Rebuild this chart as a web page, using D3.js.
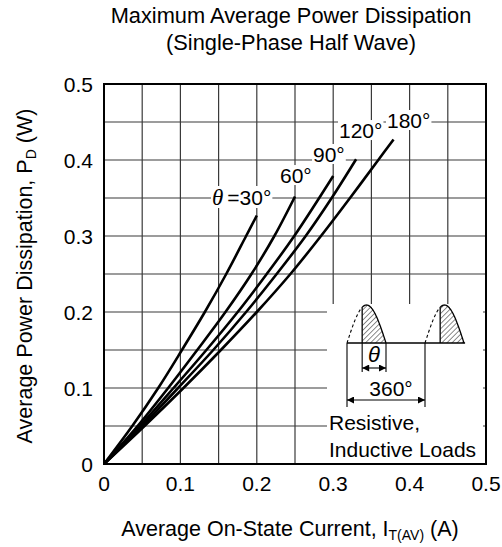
<!DOCTYPE html>
<html><head><meta charset="utf-8">
<script src="https://cdn.jsdelivr.net/npm/d3@7"></script>
<style>
body{margin:0;background:#fff}
svg{display:block}
text{font-family:"Liberation Sans",Arial,Helvetica,sans-serif;fill:#000}
</style>
</head><body>
<svg id="chart" width="502" height="547"></svg>
<script>
// ---------- data ----------
const xTickValues = [0, 0.1, 0.2, 0.3, 0.4, 0.5];
const xTickLabels = ["0", "0.1", "0.2", "0.3", "0.4", "0.5"];
const yTickValues = [0, 0.1, 0.2, 0.3, 0.4, 0.5];
const yTickLabels = ["0", "0.1", "0.2", "0.3", "0.4", "0.5"];
const gridValues = [0.05, 0.1, 0.15, 0.2, 0.25, 0.3, 0.35, 0.4, 0.45];

const seriesNames = ["30°", "60°", "90°", "120°", "180°"];
const current30  = [0, 0.037, 0.071, 0.102, 0.132, 0.160, 0.186, 0.200];
const power30    = [0, 0.05, 0.10, 0.15, 0.20, 0.25, 0.30, 0.327];
const current60  = [0, 0.044, 0.084, 0.122, 0.159, 0.193, 0.223, 0.250];
const power60    = [0, 0.05, 0.10, 0.15, 0.20, 0.25, 0.30, 0.352];
const current90  = [0, 0.047, 0.091, 0.134, 0.175, 0.213, 0.249, 0.300];
const power90    = [0, 0.05, 0.10, 0.15, 0.20, 0.25, 0.30, 0.379];
const current120 = [0, 0.050, 0.097, 0.143, 0.186, 0.226, 0.264, 0.298, 0.330];
const power120   = [0, 0.05, 0.10, 0.15, 0.20, 0.25, 0.30, 0.35, 0.401];
const current180 = [0, 0.053, 0.104, 0.153, 0.200, 0.244, 0.284, 0.322, 0.359, 0.379];
const power180   = [0, 0.05, 0.10, 0.15, 0.20, 0.25, 0.30, 0.35, 0.40, 0.427];

const titleLines = ["Maximum Average Power Dissipation", "(Single-Phase Half Wave)"];
const loadLines = ["Resistive,", "Inductive Loads"];

// ---------- layout ----------
const W = 502, H = 547;
const plot = {left: 104, right: 486, top: 84, bottom: 464};
const FONT = 21;
// label anchors (data units)
const labelAnchors = [[0.1414, 0.3408], [0.2304, 0.3697], [0.2736, 0.3974], [0.3076, 0.4289], [0.3704, 0.4421]];

const svg = d3.select("#chart");
svg.append("rect").attr("width", W).attr("height", H).attr("fill", "#fff");

const x = d3.scaleLinear().domain([0, 0.5]).range([plot.left, plot.right]);
const y = d3.scaleLinear().domain([0, 0.5]).range([plot.bottom, plot.top]);

// grid
const grid = svg.append("g").attr("stroke", "#3a3a3a").attr("stroke-width", 1.2);
grid.selectAll("line.v").data(gridValues).join("line")
  .attr("x1", d => x(d)).attr("x2", d => x(d))
  .attr("y1", plot.top).attr("y2", plot.bottom);
grid.selectAll("line.h").data(gridValues).join("line")
  .attr("y1", d => y(d)).attr("y2", d => y(d))
  .attr("x1", plot.left).attr("x2", plot.right);

// inset white box
const inset = {left: 327, right: 483, top: 304};
svg.append("rect").attr("x", inset.left).attr("y", inset.top)
  .attr("width", inset.right - inset.left).attr("height", plot.bottom - inset.top)
  .attr("fill", "#fff");

// frame
svg.append("rect").attr("x", plot.left).attr("y", plot.top)
  .attr("width", plot.right - plot.left).attr("height", plot.bottom - plot.top)
  .attr("fill", "none").attr("stroke", "#000").attr("stroke-width", 2);

// curves
const seriesData = [
  d3.zip(current30, power30), d3.zip(current60, power60), d3.zip(current90, power90),
  d3.zip(current120, power120), d3.zip(current180, power180)
];
const line = d3.line().x(d => x(d[0])).y(d => y(d[1])).curve(d3.curveCatmullRom.alpha(0.5));
svg.append("g").selectAll("path").data(seriesData).join("path")
  .attr("d", line).attr("fill", "none").attr("stroke", "#000")
  .attr("stroke-width", 2.6).attr("stroke-linecap", "butt");

// curve labels with white background
const labG = svg.append("g");
seriesNames.forEach((name, i) => {
  const g = labG.append("g");
  const t = g.append("text").attr("x", x(labelAnchors[i][0])).attr("y", y(labelAnchors[i][1]))
    .attr("font-size", FONT);
  if (i === 0) {
    t.append("tspan").text("θ").attr("font-family", "'Liberation Serif','Times New Roman',serif")
      .attr("font-style", "italic").attr("font-size", FONT + 2);
    t.append("tspan").text("=" + name).attr("dx", 4);
  } else {
    t.text(name);
  }
  const bb = t.node().getBBox();
  g.insert("rect", "text").attr("x", bb.x - 1).attr("y", bb.y + 1)
    .attr("width", bb.width + 2).attr("height", bb.height - 3).attr("fill", "#fff");
});

// tick labels
svg.append("g").selectAll("text").data(xTickValues).join("text")
  .attr("x", d => x(d)).attr("y", 491).attr("text-anchor", "middle")
  .attr("font-size", FONT).text((d, i) => xTickLabels[i]);
svg.append("g").selectAll("text").data(yTickValues).join("text")
  .attr("x", 93).attr("y", d => y(d) + 7.5).attr("text-anchor", "end")
  .attr("font-size", FONT).text((d, i) => yTickLabels[i]);

// title
svg.append("g").selectAll("text").data(titleLines).join("text")
  .attr("x", 291).attr("y", (d, i) => 23 + i * 27).attr("text-anchor", "middle")
  .attr("font-size", 21.8).text(d => d);

// x axis label
const xl = svg.append("text").attr("x", 290).attr("y", 536).attr("text-anchor", "middle").attr("font-size", 21.5);
xl.append("tspan").text("Average On-State Current, I");
xl.append("tspan").text("T(AV)").attr("font-size", 14).attr("dy", 4);
xl.append("tspan").text(" (A)").attr("dy", -4);

// y axis label
const yl = svg.append("text").attr("transform", "translate(32,276) rotate(-90)")
  .attr("text-anchor", "middle").attr("font-size", 21.5);
yl.append("tspan").text("Average Power Dissipation, P");
yl.append("tspan").text("D").attr("font-size", 14).attr("dy", 4);
yl.append("tspan").text(" (W)").attr("dy", -4);

// ---------- inset waveform ----------
const ang = d3.scaleLinear().domain([0, 360]).range([347, 425]);
const amp = d3.scaleLinear().domain([0, 1]).range([343, 305]);
const fireAngle = 70;
const defs = svg.append("defs");
defs.append("pattern").attr("id", "hatch").attr("patternUnits", "userSpaceOnUse")
  .attr("width", 3.6).attr("height", 3.6).attr("patternTransform", "rotate(45)")
  .append("line").attr("x1", 0).attr("y1", 0).attr("x2", 0).attr("y2", 3.6)
  .attr("stroke", "#000").attr("stroke-width", 0.9);
const mk = defs.append("marker").attr("id", "arr").attr("viewBox", "0 0 10 10")
  .attr("refX", 10).attr("refY", 5).attr("markerWidth", 9).attr("markerHeight", 7)
  .attr("markerUnits", "userSpaceOnUse").attr("orient", "auto-start-reverse");
mk.append("path").attr("d", "M0,0 L10,5 L0,10 Z").attr("fill", "#000");

const ig = svg.append("g").attr("fill", "none").attr("stroke", "#000");
const wave = d3.line().x(d => ang(d)).y(d => amp(Math.sin((d % 360) * Math.PI / 180)));
[0, 360].forEach(off => {
  const dashed = d3.range(off, off + fireAngle + 0.1, 2);
  ig.append("path").attr("d", wave(dashed)).attr("stroke-dasharray", "3,2.5").attr("stroke-width", 1.1);
  const solid = d3.range(off + fireAngle, off + 180.01, 2);
  const area = d3.area().x(d => ang(d)).y0(amp(0)).y1(d => amp(Math.sin((d - off) * Math.PI / 180)));
  ig.append("path").attr("d", area(solid)).attr("fill", "url(#hatch)").attr("stroke", "none");
  ig.append("path").attr("d", wave(solid)).attr("stroke-width", 1.3);
  ig.append("line").attr("x1", ang(off + fireAngle)).attr("x2", ang(off + fireAngle))
    .attr("y1", amp(0)).attr("y2", amp(Math.sin(fireAngle * Math.PI / 180))).attr("stroke-width", 1.3);
});
// baseline
ig.append("line").attr("x1", ang(0)).attr("x2", ang(545)).attr("y1", amp(0)).attr("y2", amp(0)).attr("stroke-width", 1.3);
// extension lines
[[fireAngle, 372], [180, 372], [0, 407], [360, 407]].forEach(([a, y2]) => {
  ig.append("line").attr("x1", ang(a)).attr("x2", ang(a)).attr("y1", amp(0)).attr("y2", y2).attr("stroke-width", 1.1);
});
// dimension arrows
ig.append("line").attr("x1", ang(fireAngle)).attr("x2", ang(180)).attr("y1", 368).attr("y2", 368)
  .attr("stroke-width", 1.1).attr("marker-start", "url(#arr)").attr("marker-end", "url(#arr)");
ig.append("line").attr("x1", ang(0)).attr("x2", ang(360)).attr("y1", 400).attr("y2", 400)
  .attr("stroke-width", 1.1).attr("marker-start", "url(#arr)").attr("marker-end", "url(#arr)");
svg.append("text").attr("x", (ang(fireAngle) + ang(180)) / 2).attr("y", 362).attr("text-anchor", "middle")
  .attr("font-family", "'Liberation Serif','Times New Roman',serif").attr("font-style", "italic")
  .attr("font-size", 22).text("θ");
svg.append("text").attr("x", (ang(0) + ang(360)) / 2 + 5).attr("y", 396).attr("text-anchor", "middle")
  .attr("font-size", FONT).text("360°");
svg.append("g").selectAll("text").data(loadLines).join("text")
  .attr("x", 329).attr("y", (d, i) => 430 + i * 27).attr("font-size", FONT).text(d => d);
</script>
</body></html>
